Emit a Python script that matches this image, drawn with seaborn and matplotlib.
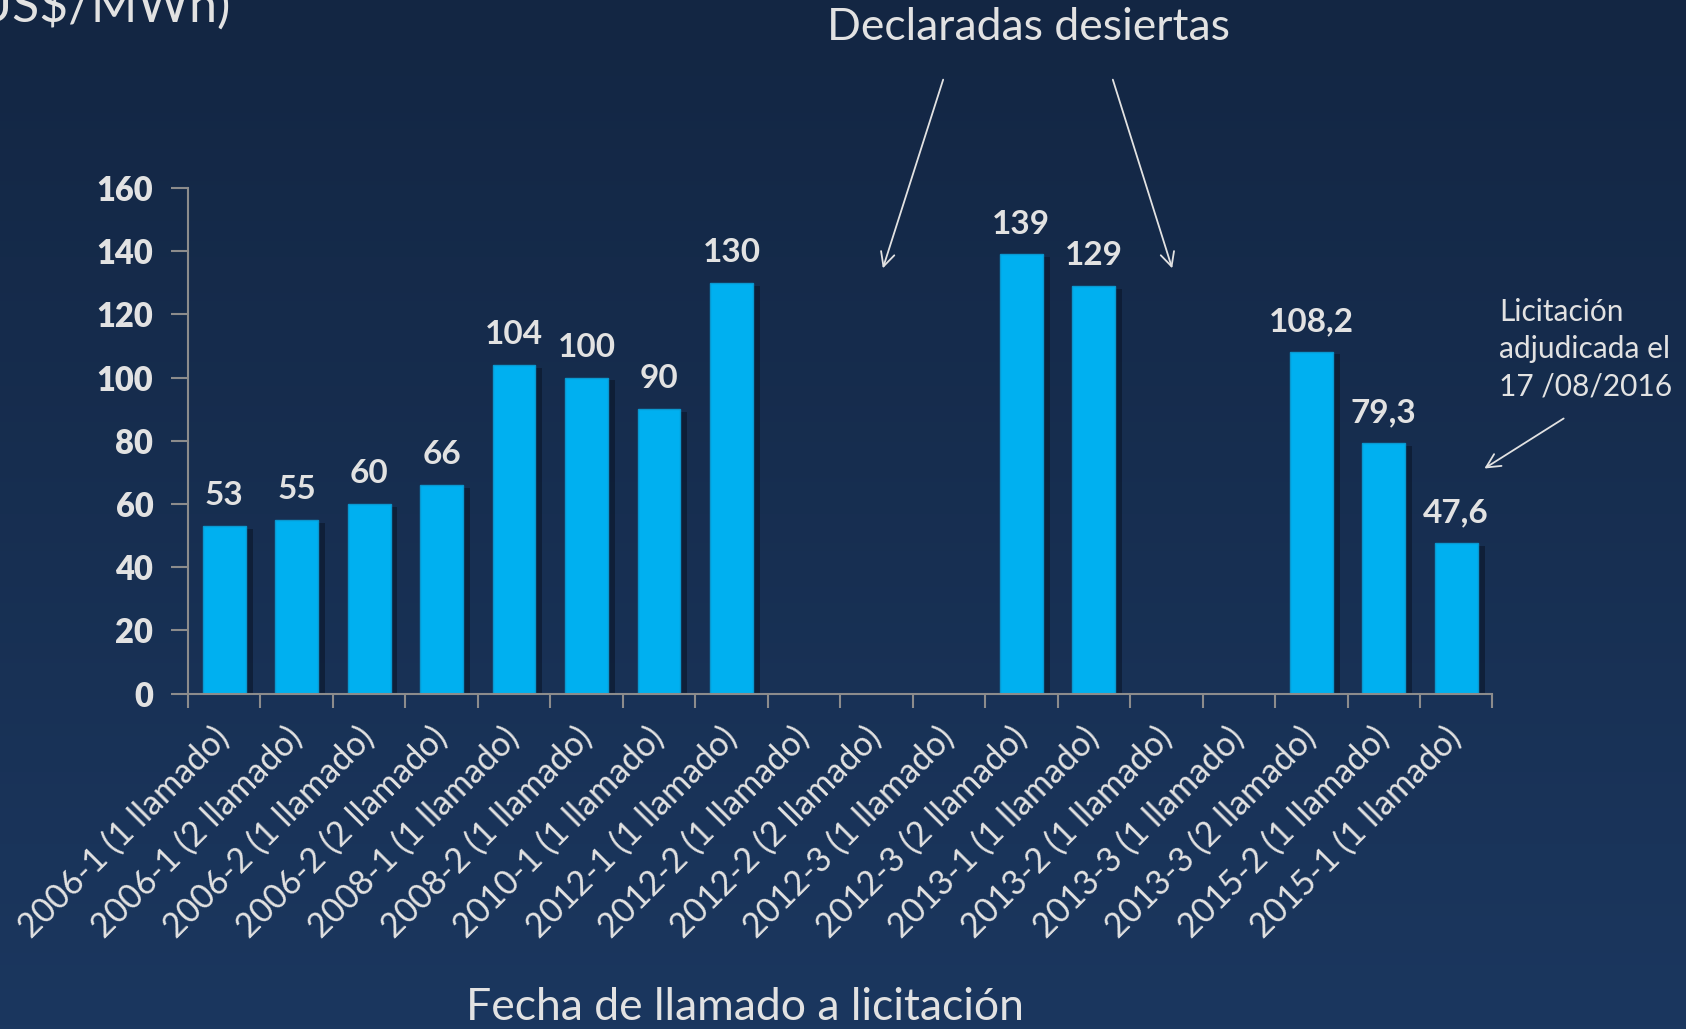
import numpy as np
import pandas as pd
import matplotlib
matplotlib.use("Agg")
import matplotlib.pyplot as plt
import matplotlib.patheffects as pe
import seaborn as sns

# Datos (US$/MWh) por llamado a licitación; NaN = declarada desierta
llamados = ['2006-1 (1 llamado)', '2006-1 (2 llamado)', '2006-2 (1 llamado)',
            '2006-2 (2 llamado)', '2008-1 (1 llamado)', '2008-2 (1 llamado)',
            '2010-1 (1 llamado)', '2012-1 (1 llamado)', '2012-2 (1 llamado)',
            '2012-2 (2 llamado)', '2012-3 (1 llamado)', '2012-3 (2 llamado)',
            '2013-1 (1 llamado)', '2013-2 (1 llamado)', '2013-3 (1 llamado)',
            '2013-3 (2 llamado)', '2015-2 (1 llamado)', '2015-1 (1 llamado)']
precios = [53, 55, 60, 66, 104, 100, 90, 130, np.nan, np.nan, np.nan,
           139, 129, np.nan, np.nan, 108.2, 79.3, 47.6]
etiquetas = ['53', '55', '60', '66', '104', '100', '90', '130', '', '', '',
             '139', '129', '', '', '108,2', '79,3', '47,6']

df = pd.DataFrame({'llamado': llamados, 'precio': precios})

sns.set_style("white")
plt.rcParams['font.family'] = ['Lato', 'DejaVu Sans']

txt = '#E2E2E2'
grid_col = '#8C8C8C'

fig = plt.figure(figsize=(16.86, 10.29), dpi=100)

# fondo degradado
bg = fig.add_axes([0, 0, 1, 1], zorder=-10)
grad = np.linspace(0, 1, 256).reshape(-1, 1)
cmap = matplotlib.colors.LinearSegmentedColormap.from_list('bg', ['#132643', '#1B375F'])
bg.imshow(grad, aspect='auto', cmap=cmap, extent=[0, 1, 0, 1])
bg.axis('off')

ax = fig.add_axes([0.1115, 0.326, 0.7737, 0.4913])
ax.patch.set_alpha(0)

sns.barplot(data=df, x='llamado', y='precio', order=llamados, color='#00B0F0',
            saturation=1, width=0.59, errorbar=None, ax=ax,
            edgecolor='#0A98D0', linewidth=1)

for bar in ax.patches:
    bar.set_path_effects([pe.SimplePatchShadow(offset=(5, -2), shadow_rgbFace='#0A1528', alpha=0.6),
                          pe.Normal()])

for i, (v, lab) in enumerate(zip(precios, etiquetas)):
    if lab:
        ax.annotate(lab, (i, v), xytext=(0, 15), textcoords='offset points',
                    ha='center', va='baseline', fontsize=24, fontweight='bold', color=txt)

ax.set_xlim(-0.5, len(llamados) - 0.5)
ax.set_ylim(0, 160)
ax.set_yticks(range(0, 161, 20))
ax.set_xticks(range(len(llamados)))
ax.set_xticks(np.arange(-0.5, len(llamados), 1), minor=True)
ax.set_xticklabels(llamados, rotation=45, ha='right', va='center',
                   rotation_mode='anchor', fontsize=24.5, color=txt)
ax.tick_params(axis='x', which='major', length=0, pad=28, bottom=True)
ax.tick_params(axis='x', which='minor', length=10, width=1.5, color=grid_col,
               direction='out', bottom=True)
ax.tick_params(axis='y', length=12, width=1.5, color=grid_col, direction='out', left=True,
               labelsize=23.5, labelcolor=txt, pad=13)
for t in ax.get_yticklabels():
    t.set_fontweight('heavy')

ax.set_xlabel('')
ax.set_ylabel('')
for s in ['top', 'right']:
    ax.spines[s].set_visible(False)
for s in ['left', 'bottom']:
    ax.spines[s].set_color(grid_col)
    ax.spines[s].set_linewidth(1.5)

# textos y flechas
fig.text(0.442, 1 - 1008 / 1029, 'Fecha de llamado a licitación', ha='center', va='center',
         fontsize=32, color=txt)
fig.text(0.137, 1 - 22 / 1029, '(US$/MWh)', ha='right', va='baseline',
         fontsize=36, color=txt)
fig.text(0.61, 1 - 27 / 1029, 'Declaradas desiertas', ha='center', va='center',
         fontsize=32, color=txt)
fig.text(0.889, 1 - 298 / 1029, 'Licitación\nadjudicada el\n17 /08/2016', ha='left', va='top',
         fontsize=21.5, color=txt, linespacing=1.4)

arrow = dict(arrowstyle='->', color=txt, lw=1.3, mutation_scale=25)
for (x0, y0, x1, y1) in [(944, 77, 882, 271), (1112, 77, 1173, 271), (1566, 417, 1482, 470)]:
    fig.add_artist(matplotlib.patches.FancyArrowPatch(
        (x0 / 1686, 1 - y0 / 1029), (x1 / 1686, 1 - y1 / 1029),
        transform=fig.transFigure, **arrow))

fig.savefig('out.png', dpi=100)
